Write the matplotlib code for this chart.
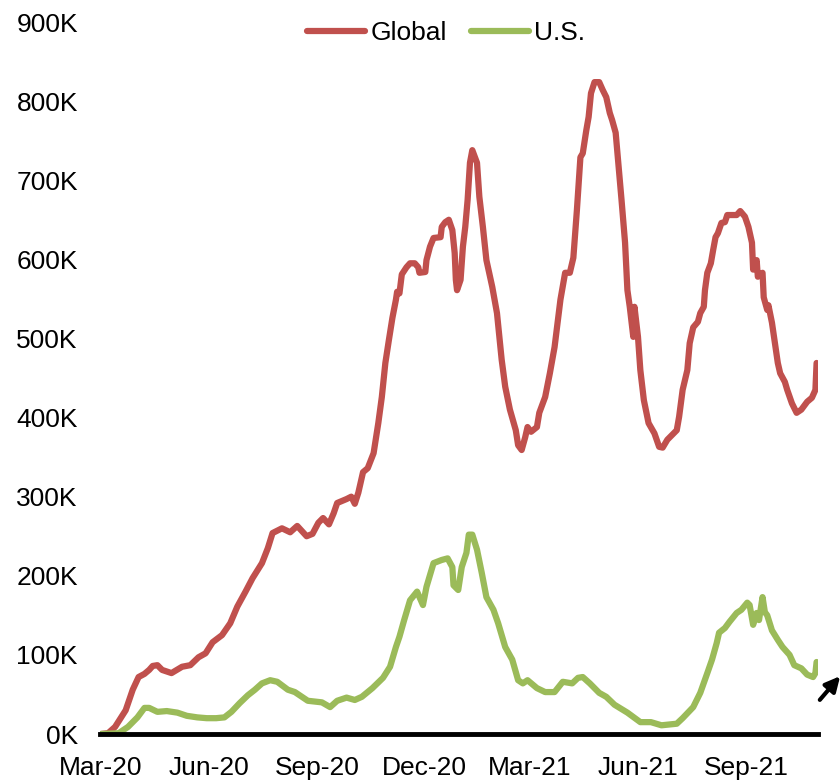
import matplotlib
matplotlib.use("Agg")
import matplotlib.pyplot as plt
from matplotlib.ticker import FuncFormatter

plt.rcParams['font.family'] = ['Liberation Sans', 'DejaVu Sans']

# days since 2020-03-01, values in thousands (7-day average new cases)
global_days = [0, 6, 12, 21, 27, 32, 37, 41, 44, 48, 52, 60, 69, 76, 83, 89, 95, 103, 110, 116,
               123, 129, 137, 142, 146, 154, 161, 167, 172, 175, 180, 185, 189, 194, 198, 201,
               209, 213, 216, 219, 223, 227, 232, 236, 239, 242, 245, 248, 251, 252, 254, 256,
               260, 263, 267, 270, 271, 276, 277, 280, 283, 289, 290, 293, 296, 299, 301, 302,
               303, 306, 308, 310, 312, 314, 316, 320, 322, 325, 328, 333, 337, 341, 344, 348,
               353, 355, 358, 361, 363, 366, 371, 373, 378, 382, 386, 391, 395, 399, 402, 405,
               408, 410, 413, 415, 417, 420, 424, 427, 430, 433, 435, 438, 440, 443, 446, 448,
               450, 453, 454, 457, 459, 462, 466, 471, 475, 478, 482, 486, 490, 492, 495, 499,
               501, 504, 508, 510, 513, 514, 516, 519, 521, 523, 525, 528, 531, 533, 538, 541,
               544, 548, 551, 554, 555, 558, 559, 563, 564, 567, 568, 571, 574, 576, 578, 582,
               584, 588, 592, 596, 601, 605, 608, 609]
global_vals = [0, 1, 9, 30, 56, 72, 76, 81, 86, 87, 81, 77, 85, 87, 97, 102, 116, 125, 140, 161,
               180, 197, 216, 235, 254, 260, 255, 263, 255, 250, 253, 267, 273, 265, 279, 292,
               297, 300, 291, 305, 331, 336, 355, 393, 426, 469, 498, 526, 549, 559, 557, 581,
               590, 595, 595, 590, 583, 584, 599, 616, 627, 628, 641, 647, 650, 637, 608, 574,
               561, 574, 616, 641, 675, 722, 738, 722, 679, 641, 599, 565, 532, 473, 439, 410,
               384, 365, 359, 375, 388, 382, 388, 406, 426, 456, 489, 549, 583, 583, 602, 662,
               729, 734, 763, 780, 810, 824, 824, 814, 805, 785, 776, 760, 726, 675, 621, 561,
               540, 502, 540, 502, 460, 422, 393, 380, 363, 362, 372, 378, 384, 401, 435, 460,
               494, 514, 521, 532, 540, 561, 583, 595, 612, 628, 633, 646, 647, 656, 656, 656,
               661, 654, 641, 621, 587, 599, 578, 583, 552, 536, 542, 520, 489, 469, 456, 445,
               435, 418, 406, 410, 420, 425, 435, 469]

us_days = [0, 15, 23, 31, 37, 41, 48, 56, 65, 73, 82, 90, 98, 105, 111, 118, 125, 131, 137, 144,
           150, 159, 165, 171, 176, 188, 195, 201, 209, 216, 222, 231, 240, 246, 251, 254, 258,
           263, 269, 274, 277, 283, 290, 295, 299, 300, 304, 307, 311, 313, 316, 320, 324, 328,
           334, 338, 344, 350, 355, 359, 363, 371, 378, 386, 393, 401, 406, 410, 416, 424, 430,
           437, 448, 459, 468, 477, 490, 495, 504, 510, 516, 520, 524, 526, 531, 535, 541, 545,
           550, 552, 555, 558, 560, 563, 565, 567, 571, 576, 580, 586, 590, 596, 601, 606, 608, 609]
us_vals = [0, 1, 9, 21, 33, 33, 28, 29, 27, 23, 21, 20, 20, 21, 28, 39, 49, 56, 64, 68,
           66, 56, 53, 47, 42, 40, 34, 42, 46, 43, 47, 58, 71, 85, 110, 123, 144,
           169, 180, 163, 186, 216, 220, 222, 211, 188, 182, 211, 229, 252, 252, 233, 204, 173,
           157, 140, 110, 94, 68, 64, 68, 58, 53, 53, 66, 64, 71, 72, 64, 52, 47,
           37, 27, 15, 15, 11, 13, 20, 34, 52, 77, 94, 115, 128, 134, 142, 153, 157,
           166, 163, 138, 153, 144, 173, 154, 150, 131, 119, 110, 100, 87, 83, 75, 72, 77, 91]

tick_days = [0, 92, 184, 275, 365, 457, 549]
tick_labels = ['Mar-20', 'Jun-20', 'Sep-20', 'Dec-20', 'Mar-21', 'Jun-21', 'Sep-21']
y_ticks = [0, 100, 200, 300, 400, 500, 600, 700, 800, 900]

RED = '#C0504D'
GREEN = '#9BBB59'

fig = plt.figure(figsize=(8.4, 7.82), dpi=100)
ax = fig.add_axes([100/840, 48/782, 718/840, 712/782])

ax.plot(global_days, global_vals, color=RED, lw=4.5, label='Global', solid_capstyle='round')
ax.plot(us_days, us_vals, color=GREEN, lw=4.5, label='U.S.', solid_capstyle='round')

ax.set_xlim(-0.85, 610.2)
ax.set_ylim(0, 900)
ax.set_xticks(tick_days)
ax.set_xticklabels(tick_labels)
ax.set_yticks(y_ticks)
ax.yaxis.set_major_formatter(FuncFormatter(lambda v, p: f'{int(v)}K'))
ax.tick_params(axis='both', length=0, labelsize=19, colors='black')
ax.tick_params(axis='y', pad=16)
ax.tick_params(axis='x', pad=16)
for s in ['top', 'right', 'left']:
    ax.spines[s].set_visible(False)
ax.spines['bottom'].set_linewidth(3.5)
ax.spines['bottom'].set_color('black')
ax.spines['bottom'].set_zorder(5)

leg = ax.legend(loc='center', bbox_to_anchor=(0.482, 0.9846), ncol=2, frameon=False,
                fontsize=19, handlelength=2.2, handletextpad=0.2, columnspacing=0.9)

ax.annotate('', xy=(842, 108), xytext=(818, 80), xycoords='figure pixels',
            textcoords='figure pixels',
            arrowprops=dict(arrowstyle='-|>', color='black', lw=3, mutation_scale=22),
            annotation_clip=False)

fig.savefig('out.png', dpi=100)
